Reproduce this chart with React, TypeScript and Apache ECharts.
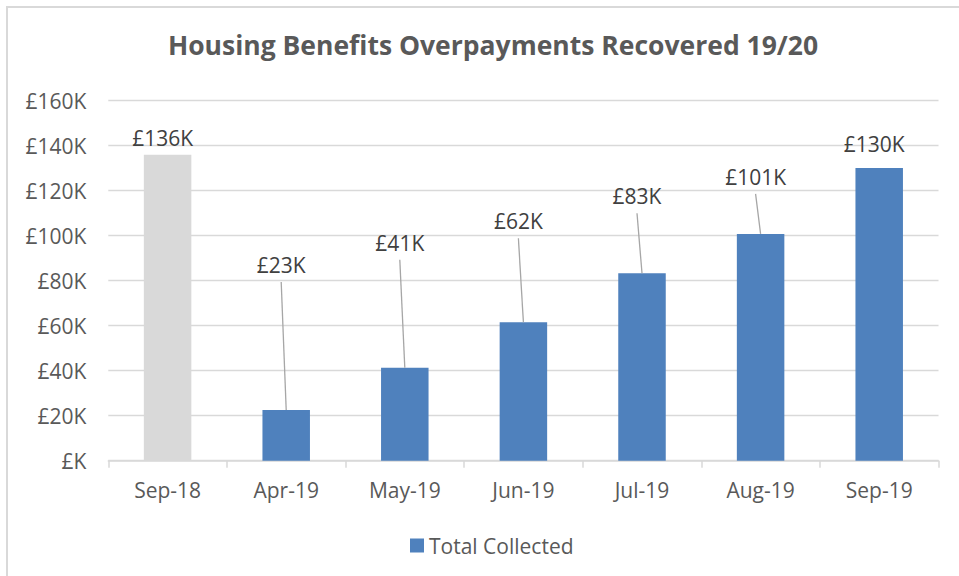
import React, { useEffect, useRef } from "react";
import * as echarts from "echarts";

// ---- Data ----
const categories: string[] = ["Sep-18", "Apr-19", "May-19", "Jun-19", "Jul-19", "Aug-19", "Sep-19"];
// Total collected, in £ thousands
const totalCollected: number[] = [136, 22.5, 41.3, 61.5, 83.3, 100.8, 130.1];
const seriesName = "Total Collected";
const titleText = "Housing Benefits Overpayments Recovered 19/20";

// ---- Label layout (pixels above bar top for each data label) ----
const labelLift: number[] = [17, 145, 125, 101, 77, 57, 24];
const labelShiftX = -5;

const FONT = "'Open Sans', 'Liberation Sans', sans-serif";

export default function App() {
  const ref = useRef<HTMLDivElement>(null);

  useEffect(() => {
    if (!ref.current) return;
    const chart = echarts.init(ref.current, undefined, { renderer: "svg" });

    const barData = totalCollected.map((v, i) =>
      i === 0 ? { value: v, itemStyle: { color: "#d9d9d9" } } : { value: v }
    );
    const labelData = totalCollected.map((v, i) => [i, v]);

    chart.setOption({
      animation: false,
      backgroundColor: "#ffffff",
      textStyle: { fontFamily: FONT },
      title: {
        text: titleText,
        left: 488,
        textAlign: "center",
        top: 26,
        textStyle: { fontFamily: FONT, fontSize: 26.5, fontWeight: "bold", color: "#595959" },
      },
      legend: {
        data: [{ name: seriesName, icon: "rect" }],
        left: 405,
        top: 530,
        itemWidth: 14,
        itemHeight: 14,
        itemGap: 10,
        textStyle: { fontFamily: FONT, fontSize: 21, color: "#595959" },
      },
      grid: { left: 108.3, right: 20.5, top: 100.7, bottom: 115.3, containLabel: false },
      xAxis: {
        type: "category",
        data: categories,
        axisLine: { show: true, lineStyle: { color: "#d9d9d9", width: 1.5 } },
        axisTick: { show: true, length: 7, lineStyle: { color: "#d9d9d9", width: 1.5 } },
        axisLabel: { fontFamily: FONT, fontSize: 21, color: "#595959", margin: 19 },
      },
      yAxis: {
        type: "value",
        min: 0,
        max: 160,
        interval: 20,
        axisLine: { show: false },
        axisTick: { show: false },
        splitLine: { lineStyle: { color: "#d9d9d9", width: 1.3 } },
        axisLabel: {
          fontFamily: FONT,
          fontSize: 21,
          color: "#595959",
          margin: 22,
          formatter: (v: number) => (v === 0 ? "£K" : `£${v}K`),
        },
      },
      graphic: [
        {
          type: "rect",
          shape: { x: 7, y: 7, width: 970, height: 590 },
          style: { fill: "none", stroke: "#d9d9d9", lineWidth: 2 },
          silent: true,
          z: -10,
        },
      ],
      series: [
        {
          name: seriesName,
          type: "bar",
          data: barData,
          barWidth: 47.5,
          itemStyle: { color: "#4f81bd" },
          z: 2,
        },
        {
          name: "labels",
          type: "custom",
          data: labelData,
          encode: { x: 0, y: 1 },
          z: 5,
          silent: true,
          renderItem: (params: any, api: any) => {
            const idx = api.value(0);
            const val = api.value(1);
            const pt = api.coord([idx, val]);
            const i = params.dataIndex;
            const lift = labelLift[i];
            const cx = pt[0] + labelShiftX;
            const cy = pt[1] - lift;
            const children: any[] = [];
            if (lift > 40) {
              children.push({
                type: "line",
                shape: { x1: cx, y1: cy + 17, x2: pt[0], y2: pt[1] },
                style: { stroke: "#a6a6a6", lineWidth: 1.3 },
              });
            }
            children.push({
              type: "text",
              x: cx,
              y: cy,
              style: {
                text: `£${Math.round(val)}K`,
                align: "center",
                verticalAlign: "middle",
                fill: "#404040",
                fontSize: 21,
                fontFamily: FONT,
              },
            });
            return { type: "group", children };
          },
        },
      ],
    });

    return () => chart.dispose();
  }, []);

  return (
    <div
      ref={ref}
      style={{ position: "absolute", left: 0, top: 0, width: 959, height: 576 }}
    />
  );
}
